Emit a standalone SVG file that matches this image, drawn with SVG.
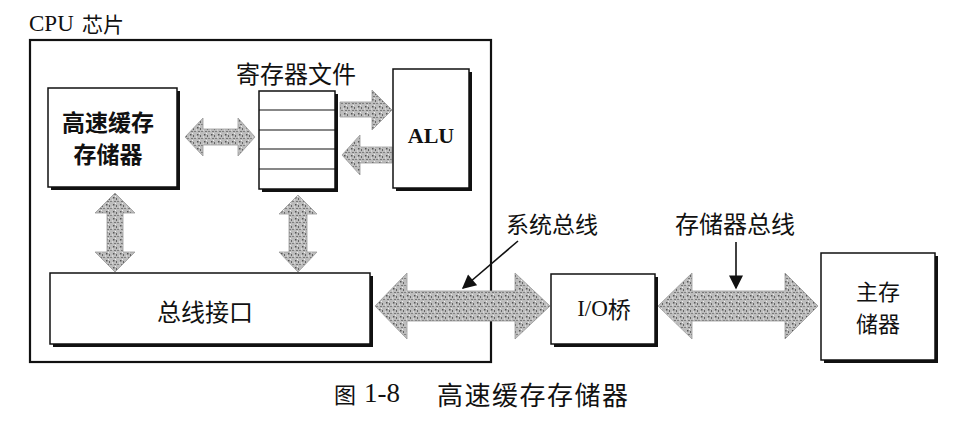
<svg xmlns="http://www.w3.org/2000/svg" width="957" height="426" viewBox="0 0 957 426">
<style>
.box{fill:#fff;stroke:#111;stroke-width:1.5}
.shadow{fill:#111}
.chip{fill:none;stroke:#111;stroke-width:2.2}
.bus{fill:url(#stip);stroke:#999;stroke-width:0.8}
.ptr{stroke:#111;stroke-width:1.6;fill:none}
.cjk{font-family:"Noto Sans CJK SC","Noto Sans",sans-serif;fill:#111}
.ser{font-family:"Liberation Serif","Noto Sans CJK SC",serif;fill:#111}
.row{stroke:#111;stroke-width:1.2}
</style>
<defs>
<pattern id="stip" width="7" height="7" patternUnits="userSpaceOnUse">
<rect width="7" height="7" fill="#bdbdbd"/>
<rect x="1" y="1" width="1.5" height="1.5" fill="#555"/>
<rect x="4" y="2" width="1" height="2" fill="#666"/>
<rect x="2" y="5" width="2" height="1" fill="#777"/>
<rect x="5.5" y="5" width="1" height="1" fill="#444"/>
<rect x="0" y="3.5" width="1" height="1" fill="#eee"/>
<rect x="3" y="0" width="1" height="1" fill="#eee"/>
</pattern>
<marker id="ah2" viewBox="0 0 10 10" refX="9" refY="5" markerWidth="16" markerHeight="14" markerUnits="userSpaceOnUse" orient="auto">
<path d="M0,0 L10,5 L0,10 Z" fill="#111"/>
</marker>
</defs>
<rect width="957" height="426" fill="#fff"/>

<g id="cpu-chip">
<rect class="chip" x="30" y="40" width="461" height="322"/>
<text class="ser" x="29" y="23" font-size="23" dominant-baseline="central">CPU</text>
<text class="cjk" x="82" y="23" font-size="21" dominant-baseline="central">芯片</text>
</g>

<g id="connectors">
<path class="bus" d="M185,137 L203,118 L203,129 L238,129 L238,118 L255,137 L238,156 L238,145 L203,145 L203,156 Z"/>
<path class="bus" d="M340,102 L372,102 L372,90 L392,110 L372,130 L372,117 L340,117 Z"/>
<path class="bus" d="M392,147 L360,147 L360,135 L342,155 L360,175 L360,163 L392,163 Z"/>
<path class="bus" d="M115,193 L135,213 L123,213 L123,252 L135,252 L115,272 L95,252 L107,252 L107,213 L95,213 Z"/>
<path class="bus" d="M298,195 L317,214 L307,214 L307,252 L317,252 L298,272 L279,252 L289,252 L289,214 L279,214 Z"/>
<path class="bus" d="M375,306 L407,273 L407,291 L515,291 L515,273 L550,306 L515,339 L515,321 L407,321 L407,339 Z"/>
<path class="bus" d="M658,306 L692,273 L692,291 L785,291 L785,273 L818,306 L785,339 L785,321 L692,321 L692,339 Z"/>
<line class="ptr" x1="518" y1="241" x2="463" y2="288" marker-end="url(#ah2)"/>
<line class="ptr" x1="736" y1="242" x2="736" y2="288" marker-end="url(#ah2)"/>
</g>

<g id="cache">
<rect class="shadow" x="51" y="91" width="129" height="99"/>
<rect class="box" x="48" y="88" width="129" height="99"/>
<text class="cjk" x="108" y="121" font-size="23" font-weight="bold" text-anchor="middle" dominant-baseline="central">高速缓存</text>
<text class="cjk" x="108" y="153" font-size="23" font-weight="bold" text-anchor="middle" dominant-baseline="central">存储器</text>
</g>

<g id="register-file">
<text class="cjk" x="296" y="72" font-size="24" text-anchor="middle" dominant-baseline="central">寄存器文件</text>
<rect class="shadow" x="262" y="94" width="76" height="98"/>
<rect class="box" x="259" y="91" width="76" height="98"/>
<line class="row" x1="259" y1="110" x2="335" y2="110"/>
<line class="row" x1="259" y1="130" x2="335" y2="130"/>
<line class="row" x1="259" y1="149" x2="335" y2="149"/>
<line class="row" x1="259" y1="169" x2="335" y2="169"/>
</g>

<g id="alu">
<rect class="shadow" x="396" y="72" width="76" height="119"/>
<rect class="box" x="393" y="69" width="76" height="119"/>
<text class="ser" x="431" y="135" font-size="22" font-weight="bold" text-anchor="middle" dominant-baseline="central">ALU</text>
</g>

<g id="bus-interface">
<rect class="shadow" x="53" y="276" width="320" height="71"/>
<rect class="box" x="50" y="273" width="320" height="71"/>
<text class="cjk" x="205" y="310" font-size="24" text-anchor="middle" dominant-baseline="central">总线接口</text>
</g>

<g id="io-bridge">
<rect class="shadow" x="554" y="277" width="104" height="70"/>
<rect class="box" x="551" y="274" width="104" height="70"/>
<text class="ser" x="604" y="308" font-size="23" text-anchor="middle" dominant-baseline="central">I/O<tspan class="cjk">桥</tspan></text>
</g>

<g id="main-memory">
<rect class="shadow" x="824" y="256" width="114" height="107"/>
<rect class="box" x="821" y="253" width="114" height="107"/>
<text class="cjk" x="878" y="290" font-size="22" text-anchor="middle" dominant-baseline="central">主存</text>
<text class="cjk" x="878" y="322" font-size="22" text-anchor="middle" dominant-baseline="central">储器</text>
</g>

<g id="labels">
<text class="cjk" x="552" y="223" font-size="23" text-anchor="middle" dominant-baseline="central">系统总线</text>
<text class="cjk" x="735" y="222" font-size="24" text-anchor="middle" dominant-baseline="central">存储器总线</text>
</g>

<g id="caption">
<text class="cjk" x="334" y="393" font-size="22" dominant-baseline="central">图</text>
<text class="ser" x="364" y="393" font-size="27" dominant-baseline="central">1-8</text>
<text class="cjk" x="437" y="393" font-size="26" letter-spacing="1.5" dominant-baseline="central">高速缓存存储器</text>
</g>
</svg>
